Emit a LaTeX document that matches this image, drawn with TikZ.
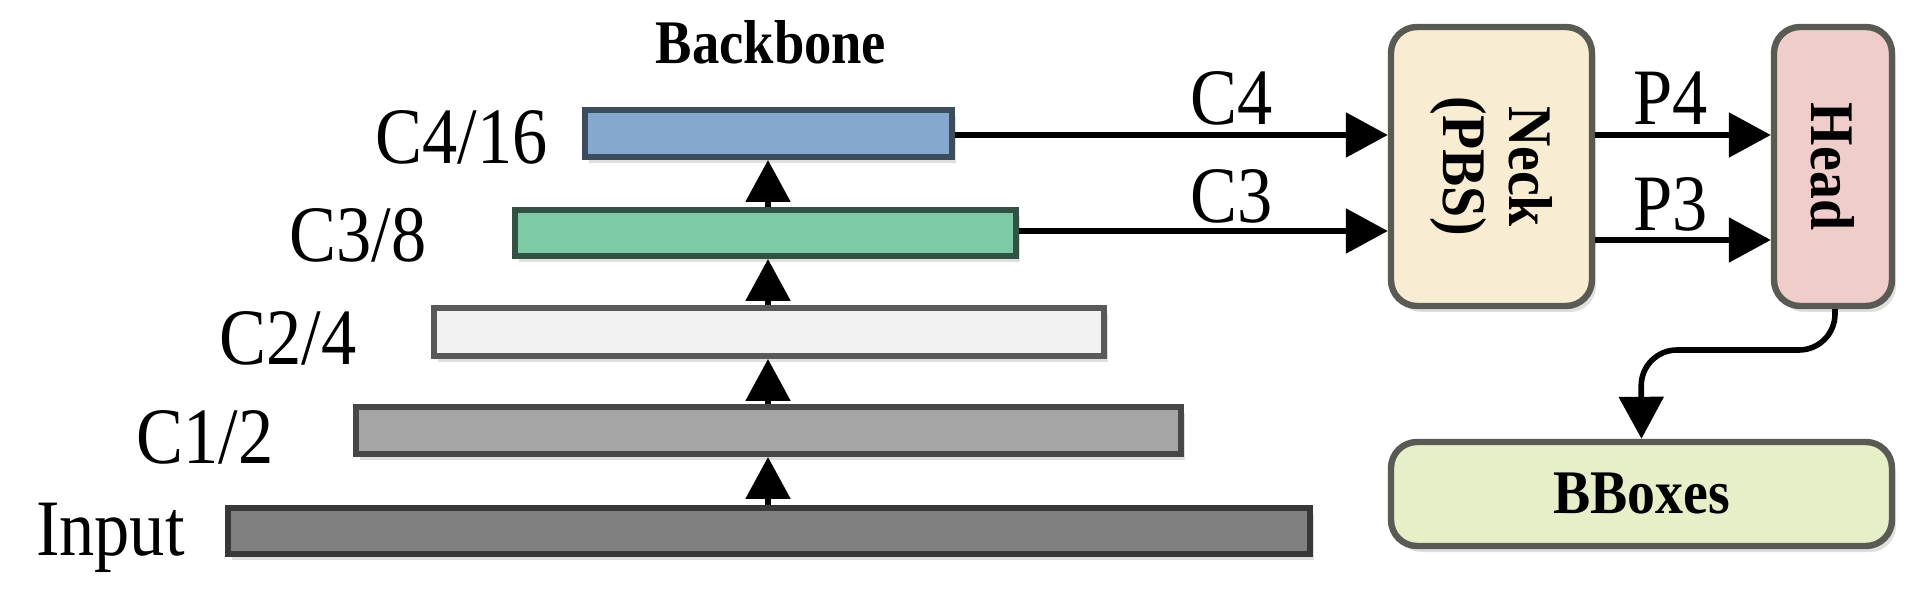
\documentclass[tikz,border=0pt]{standalone}
\usepackage{fontspec}
\setmainfont{Liberation Serif}
\usetikzlibrary{arrows.meta,shadows}
\definecolor{cfour}{HTML}{86A8CF}
\definecolor{cthree}{HTML}{7DCBA6}
\definecolor{ctwo}{HTML}{F2F2F2}
\definecolor{cone}{HTML}{A5A5A5}
\definecolor{cin}{HTML}{808080}
\definecolor{neckc}{HTML}{F8EDD3}
\definecolor{headc}{HTML}{EFCDCB}
\definecolor{bboxc}{HTML}{E7EFC8}
\definecolor{edgec}{HTML}{5A5A55}
\begin{document}
\begin{tikzpicture}[x=0.5pt,y=-0.5pt,
  bar/.style={draw=#1,line width=3pt,inner sep=0pt,drop shadow={shadow xshift=2pt,shadow yshift=-3pt,fill=black!25,opacity=0.5}},
  blk/.style={draw=edgec,line width=3.2pt,rounded corners=13pt,inner sep=0pt,font=\bfseries\fontsize{30}{32}\selectfont,drop shadow={shadow xshift=2pt,shadow yshift=-3pt,fill=black!25,opacity=0.5}},
  lab/.style={font=\fontsize{40}{42}\selectfont,inner sep=0pt,xscale=0.88},
  arr/.style={line width=2.8pt,-{Triangle[length=21pt,width=22pt]}}]
\useasboundingbox (0,0) rectangle (1919,604);
\node[bar=cfour!45!black,fill=cfour,minimum width=183.5pt,minimum height=23.5pt] (c4) at (768.5,133.5) {};
\node[bar=cthree!40!black,fill=cthree,minimum width=250.5pt,minimum height=23pt] (c3) at (765.5,233) {};
\node[bar=black!65,fill=ctwo,minimum width=335pt,minimum height=24pt] (c2) at (769,332) {};
\node[bar=black!72,fill=cone,minimum width=412.5pt,minimum height=23.5pt] (c1) at (768.5,430.5) {};
\node[bar=black!78,fill=cin,minimum width=541pt,minimum height=23pt] (in) at (769,531) {};
\coordinate (ax) at (768,0);
\foreach \a/\b in {in/c1,c1/c2,c2/c3,c3/c4}
  \draw[arr] (\a.north -| ax) -- (\b.south -| ax);
\node[lab,anchor=east] (l4) at (548,137) {C4/16};
\node[lab,anchor=east] (l3) at (427,235) {C3/8};
\node[lab,anchor=east] (l2) at (357,338) {C2/4};
\node[lab,anchor=east] (l1) at (274,437) {C1/2};
\node[lab,anchor=east] (l0) at (185,538) {Input};
\node[font=\bfseries\fontsize{31}{33}\selectfont,xscale=0.88] (bb) at (771,42) {Backbone};
\node[blk,fill=neckc,minimum width=100.5pt,minimum height=139.5pt] (neck) at (1491.5,166.5) {};
\node[font=\bfseries\fontsize{31}{33}\selectfont,rotate=-90,align=center,xscale=0.9] (neckt) at (neck.center) {Neck\\(PBS)};
\node[blk,fill=headc,minimum width=59pt,minimum height=139.5pt] (head) at (1833,166.5) {};
\node[font=\bfseries\fontsize{31}{33}\selectfont,rotate=-90,xscale=0.9] (headt) at (head.center) {Head};
\node[blk,fill=bboxc,minimum width=250.5pt,minimum height=52pt] (bbox) at (1641.5,494) {};
\node[font=\bfseries\fontsize{31}{33}\selectfont,xscale=0.9] (bboxt) at (bbox.center) {BBoxes};
\coordinate (n4) at (neck.west |- 0,135);
\coordinate (n3) at (neck.west |- 0,231);
\draw[arr] (c4.east |- n4) -- (n4);
\draw[arr] (c3.east |- n3) -- (n3);
\node[lab] (tc4) at (1232,98) {C4};
\node[lab] (tc3) at (1232,196) {C3};
\coordinate (p4) at (neck.east |- 0,135);
\coordinate (p3) at (neck.east |- 0,240);
\draw[arr] (p4) -- (head.west |- p4);
\draw[arr] (p3) -- (head.west |- p3);
\node[lab] (tp4) at (1671,98) {P4};
\node[lab] (tp3) at (1671,204) {P3};
\coordinate (hb) at (head.south -| 1835,0);
\draw[arr,rounded corners=18pt] (hb) -- (1835,350) -- (1641,350) -- (bbox.north);
\end{tikzpicture}
\end{document}
